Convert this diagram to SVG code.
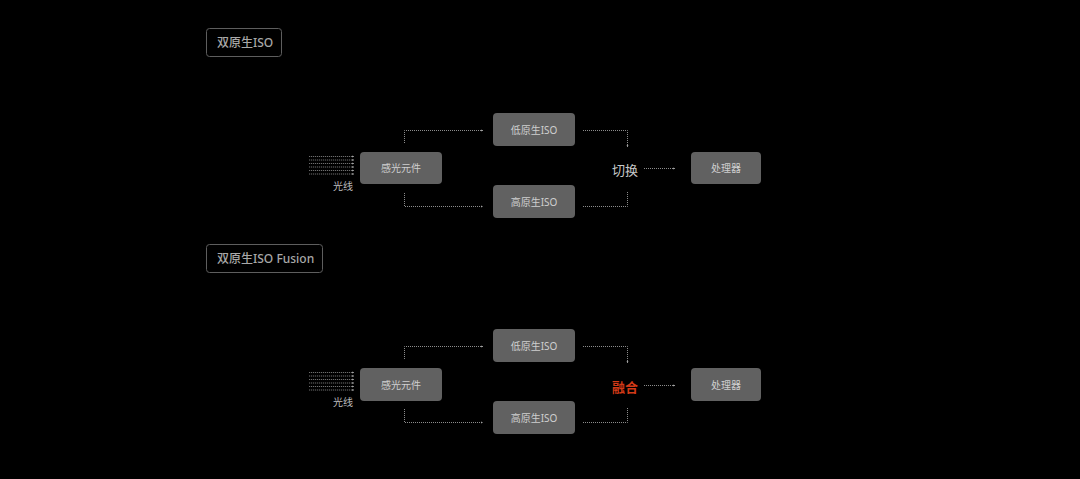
<svg xmlns="http://www.w3.org/2000/svg" width="1080" height="479" viewBox="0 0 1080 479">
<defs>
<style>
.bg{fill:#000}
.tag{fill:none;stroke:#5e5e5e;stroke-width:1}
.tagt{font-family:"Noto Sans","Noto Sans CJK SC",sans-serif;font-size:12px;fill:#a8a8a8;font-weight:500}
.box{fill:#616161}
.bt{font-family:"Noto Sans","Noto Sans CJK SC",sans-serif;font-size:10px;fill:#cfcfcf;text-anchor:middle;dominant-baseline:central}
.ln{fill:none;stroke:#8c8c8c;stroke-width:1;stroke-dasharray:1 1}
.ray{fill:none;stroke:#8a8a8a;stroke-width:0.8;stroke-dasharray:1.2 0.8}
.lbl{font-family:"Noto Sans CJK SC",sans-serif;font-size:10px;fill:#bdbdbd}
.sw{font-family:"Noto Sans CJK SC",sans-serif;font-size:13px;fill:#c8c8c8;text-anchor:middle;dominant-baseline:central}
.fu{font-family:"Noto Sans CJK SC",sans-serif;font-size:13px;fill:#d23a17;font-weight:700;text-anchor:middle;dominant-baseline:central}
</style>
<marker id="ah" markerWidth="3" markerHeight="3" refX="2.5" refY="1.5" orient="auto" markerUnits="userSpaceOnUse">
<path d="M0,0.3 L2.5,1.5 L0,2.7 Z" fill="#a0a0a0"/>
</marker>
</defs>
<rect class="bg" x="0" y="0" width="1080" height="479"/>

<g id="tag1"><rect class="tag" x="206.5" y="28.5" width="75" height="28" rx="3"/><text class="tagt" x="217" y="47">双原生ISO</text></g>
<g id="tag2"><rect class="tag" x="206.5" y="244.5" width="116" height="28" rx="3"/><text class="tagt" x="217" y="263">双原生ISO Fusion</text></g>

<g id="diagram1">
<g id="connectors1">
<path class="ray" d="M309,156.5H354" marker-end="url(#ah)"/>
<path class="ray" d="M309,160H354" marker-end="url(#ah)"/>
<path class="ray" d="M309,163.5H354" marker-end="url(#ah)"/>
<path class="ray" d="M309,167H354" marker-end="url(#ah)"/>
<path class="ray" d="M309,170.5H354" marker-end="url(#ah)"/>
<path class="ray" d="M309,174H354" marker-end="url(#ah)"/>
<path class="ln" d="M404.5,143V130.5H483" marker-end="url(#ah)"/>
<path class="ln" d="M404.5,193V206.5H483" marker-end="url(#ah)"/>
<path class="ln" d="M583,130.5H627.5V147" marker-end="url(#ah)"/>
<path class="ln" d="M583,206.5H627.5V191"/>
<path class="ln" d="M644,168.5H675" marker-end="url(#ah)"/>
</g>
<g id="light1"><text class="lbl" x="353" y="190" text-anchor="end">光线</text></g>
<g id="sensor1"><rect class="box" x="360" y="152" width="82" height="32" rx="4"/><text class="bt" x="401" y="168">感光元件</text></g>
<g id="low1"><rect class="box" x="493" y="113" width="82" height="33" rx="4"/><text class="bt" x="534" y="129.5">低原生ISO</text></g>
<g id="high1"><rect class="box" x="493" y="185" width="82" height="33" rx="4"/><text class="bt" x="534" y="201.5">高原生ISO</text></g>
<g id="switch1"><text class="sw" x="625" y="169.5">切换</text></g>
<g id="cpu1"><rect class="box" x="691" y="152" width="70" height="32" rx="4"/><text class="bt" x="726" y="168">处理器</text></g>
</g>

<g id="diagram2" transform="translate(0,216)">
<g id="connectors2">
<path class="ray" d="M309,156.5H354" marker-end="url(#ah)"/>
<path class="ray" d="M309,160H354" marker-end="url(#ah)"/>
<path class="ray" d="M309,163.5H354" marker-end="url(#ah)"/>
<path class="ray" d="M309,167H354" marker-end="url(#ah)"/>
<path class="ray" d="M309,170.5H354" marker-end="url(#ah)"/>
<path class="ray" d="M309,174H354" marker-end="url(#ah)"/>
<path class="ln" d="M404.5,143V130.5H483" marker-end="url(#ah)"/>
<path class="ln" d="M404.5,193V206.5H483" marker-end="url(#ah)"/>
<path class="ln" d="M583,130.5H627.5V147" marker-end="url(#ah)"/>
<path class="ln" d="M583,206.5H627.5V191"/>
<path class="ln" d="M644,169.5H675" marker-end="url(#ah)"/>
</g>
<g id="light2"><text class="lbl" x="353" y="190" text-anchor="end">光线</text></g>
<g id="sensor2"><rect class="box" x="360" y="152" width="82" height="33" rx="4"/><text class="bt" x="401" y="168.5">感光元件</text></g>
<g id="low2"><rect class="box" x="493" y="113" width="82" height="33" rx="4"/><text class="bt" x="534" y="129.5">低原生ISO</text></g>
<g id="high2"><rect class="box" x="493" y="185" width="82" height="33" rx="4"/><text class="bt" x="534" y="201.5">高原生ISO</text></g>
<g id="fuse2"><text class="fu" x="625" y="170">融合</text></g>
<g id="cpu2"><rect class="box" x="691" y="152" width="70" height="33" rx="4"/><text class="bt" x="726" y="168.5">处理器</text></g>
</g>
</svg>
